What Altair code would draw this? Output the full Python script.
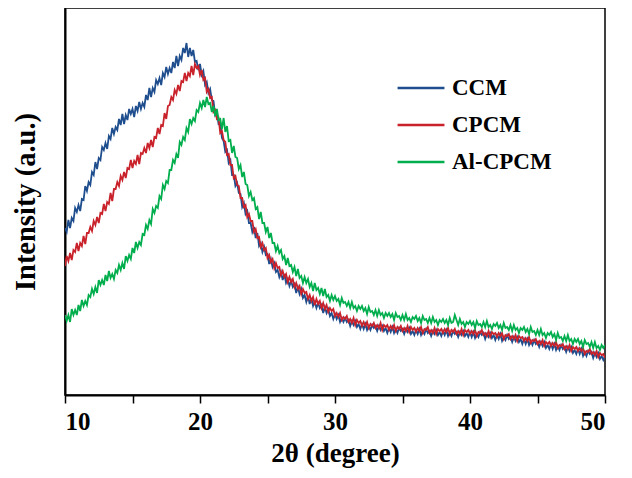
import altair as alt
import pandas as pd

two_theta = [round(10 + 0.125 * i, 3) for i in range(321)]

ccm = [
    167, 163, 175, 167, 177, 174, 187, 183, 190, 184, 196, 195, 209, 204, 213, 210,
    223, 220, 233, 226, 237, 235, 248, 245, 252, 246, 259, 256, 267, 261, 268, 265,
    276, 270, 281, 271, 280, 275, 286, 281, 286, 278, 289, 284, 293, 286, 292, 288,
    300, 295, 307, 298, 307, 303, 315, 311, 317, 310, 322, 318, 328, 321, 327, 322,
    333, 327, 339, 329, 339, 335, 347, 342, 352, 338, 347, 339, 345, 333, 334, 325,
    331, 320, 324, 310, 313, 302, 306, 295, 294, 280, 283, 271, 272, 257, 254, 243,
    245, 232, 235, 220, 220, 209, 212, 202, 201, 188, 192, 181, 184, 172, 172, 163,
    168, 157, 162, 149, 152, 143, 148, 140, 141, 131, 136, 128, 132, 123, 125, 118,
    123, 115, 121, 112, 116, 109, 114, 108, 111, 102, 108, 101, 106, 97, 100, 93,
    99, 91, 97, 89, 93, 87, 92, 87, 90, 82, 88, 82, 86, 79, 82, 76,
    81, 76, 80, 73, 77, 73, 77, 73, 75, 69, 74, 70, 74, 68, 71, 66,
    71, 66, 71, 65, 69, 65, 70, 67, 69, 64, 69, 65, 69, 64, 67, 62,
    67, 63, 68, 62, 66, 62, 67, 64, 66, 61, 66, 63, 67, 61, 64, 60,
    65, 61, 66, 60, 64, 61, 66, 62, 64, 59, 64, 61, 65, 60, 63, 59,
    64, 60, 65, 59, 63, 59, 64, 61, 63, 58, 63, 60, 64, 59, 62, 58,
    63, 58, 63, 57, 61, 58, 63, 60, 62, 56, 61, 58, 62, 57, 60, 55,
    60, 56, 61, 54, 58, 55, 60, 56, 58, 53, 58, 54, 58, 53, 56, 51,
    56, 51, 56, 50, 54, 50, 55, 51, 53, 48, 53, 49, 53, 47, 50, 46,
    51, 46, 51, 45, 49, 45, 50, 46, 48, 43, 48, 44, 48, 42, 45, 41,
    46, 41, 46, 39, 43, 39, 44, 41, 43, 37, 42, 38, 42, 36, 39, 35,
    39,
]

cpcm = [
    129, 139, 134, 142, 135, 145, 143, 152, 144, 152, 149, 159, 151, 162, 162, 168,
    164, 174, 170, 178, 172, 182, 181, 191, 184, 193, 191, 202, 194, 206, 206, 213,
    209, 219, 215, 223, 217, 227, 226, 235, 227, 234, 231, 240, 231, 242, 241, 247,
    242, 252, 247, 255, 248, 258, 257, 267, 261, 270, 269, 282, 276, 289, 290, 298,
    295, 305, 301, 310, 304, 314, 313, 322, 314, 322, 319, 329, 320, 331, 327, 329,
    320, 325, 315, 317, 303, 306, 297, 298, 283, 285, 276, 277, 262, 264, 255, 253,
    240, 241, 230, 230, 217, 219, 210, 209, 197, 197, 188, 190, 178, 181, 174, 174,
    163, 166, 157, 158, 148, 152, 145, 147, 137, 140, 133, 136, 127, 132, 127, 128,
    120, 124, 118, 121, 113, 118, 113, 116, 108, 112, 106, 109, 101, 106, 102, 103,
    96, 100, 94, 98, 90, 96, 91, 94, 87, 92, 86, 90, 83, 87, 84, 86,
    79, 82, 78, 82, 75, 78, 76, 79, 73, 76, 72, 77, 70, 75, 72, 74,
    69, 73, 69, 73, 67, 71, 69, 72, 67, 70, 67, 72, 65, 70, 68, 70,
    65, 69, 66, 70, 64, 68, 66, 69, 64, 67, 64, 69, 63, 68, 65, 67,
    63, 67, 64, 68, 62, 66, 65, 68, 62, 65, 62, 67, 61, 66, 64, 66,
    62, 66, 63, 67, 61, 65, 63, 66, 61, 64, 61, 66, 60, 65, 63, 65,
    61, 64, 61, 65, 59, 63, 62, 65, 60, 62, 59, 64, 58, 63, 61, 62,
    58, 62, 59, 62, 56, 60, 59, 61, 56, 59, 56, 60, 54, 59, 57, 58,
    54, 57, 54, 58, 52, 55, 54, 56, 51, 54, 51, 55, 49, 53, 51, 53,
    49, 52, 49, 53, 47, 50, 49, 51, 46, 49, 46, 50, 44, 48, 46, 48,
    44, 47, 44, 47, 41, 44, 43, 46, 41, 43, 40, 44, 38, 42, 40, 41,
    37,
]

al_cpcm = [
    80, 74, 80, 73, 86, 80, 85, 80, 90, 84, 95, 89, 94, 90, 100, 98,
    106, 101, 108, 102, 115, 110, 115, 110, 120, 114, 124, 117, 121, 116, 125, 122,
    130, 125, 132, 126, 139, 134, 140, 136, 147, 142, 153, 147, 153, 150, 161, 160,
    170, 166, 175, 171, 186, 182, 189, 187, 199, 196, 210, 206, 214, 212, 225, 225,
    235, 232, 241, 237, 253, 250, 258, 255, 267, 263, 276, 271, 277, 274, 285, 283,
    292, 287, 295, 288, 298, 291, 292, 283, 289, 279, 286, 275, 276, 266, 277, 263,
    269, 254, 255, 242, 249, 238, 237, 226, 230, 218, 223, 211, 210, 199, 203, 195,
    197, 186, 188, 176, 183, 172, 172, 163, 168, 157, 162, 152, 152, 144, 149, 142,
    145, 136, 139, 130, 137, 129, 130, 123, 128, 119, 126, 117, 119, 112, 118, 112,
    116, 108, 112, 104, 112, 105, 107, 101, 107, 99, 106, 98, 100, 94, 100, 95,
    99, 94, 96, 90, 97, 92, 93, 89, 93, 87, 93, 87, 89, 84, 89, 86,
    89, 84, 87, 81, 88, 83, 84, 80, 85, 79, 85, 80, 82, 77, 82, 79,
    82, 78, 81, 75, 82, 78, 79, 75, 80, 75, 81, 75, 77, 73, 78, 76,
    79, 74, 77, 72, 79, 75, 76, 72, 77, 72, 78, 73, 75, 70, 75, 73,
    76, 72, 75, 70, 77, 72, 73, 80, 75, 70, 76, 71, 73, 68, 73, 71,
    74, 70, 73, 67, 74, 70, 71, 68, 73, 68, 74, 68, 70, 66, 71, 69,
    72, 67, 70, 65, 72, 67, 68, 65, 70, 64, 70, 65, 67, 62, 67, 65,
    68, 63, 66, 61, 68, 63, 64, 60, 65, 60, 66, 60, 62, 57, 62, 60,
    63, 58, 61, 55, 62, 57, 58, 54, 59, 54, 60, 54, 56, 51, 56, 53,
    56, 51, 54, 48, 55, 51, 52, 48, 53, 47, 53, 47, 49, 45, 50, 47,
    50,
]

series_names = ["CCM", "CPCM", "Al-CPCM"]
series_colors = ["#1F4E8E", "#C9222B", "#00AE4D"]
x_ticks = [10, 15, 20, 25, 30, 35, 40, 45, 50]

frames = []
for name, vals in zip(series_names, [ccm, cpcm, al_cpcm]):
    frames.append(pd.DataFrame({"x": two_theta, "y": vals, "series": name}))
df = pd.concat(frames, ignore_index=True)

FONT = "Liberation Serif"

chart = alt.Chart(df).mark_line(strokeWidth=1.8, clip=True).encode(
    x=alt.X(
        "x:Q",
        scale=alt.Scale(domain=[10, 50], nice=False, zero=False),
        axis=alt.Axis(
            title="2θ (degree)",
            values=x_ticks,
            labelExpr="datum.value % 10 === 0 ? datum.label : ''",
            grid=False,
            tickSize=8,
            tickWidth=1.5,
            tickColor="black",
            domainColor="black",
            domainWidth=2,
            labelFont=FONT,
            labelFontSize=25,
            labelFontWeight="bold",
            labelColor="black",
            labelPadding=6,
            titleFont=FONT,
            titleFontSize=27,
            titleFontWeight="bold",
            titleColor="black",
            titlePadding=6,
        ),
    ),
    y=alt.Y(
        "y:Q",
        scale=alt.Scale(domain=[0, 387], nice=False),
        axis=alt.Axis(
            title="Intensity (a.u.)",
            labels=False,
            ticks=False,
            grid=False,
            domainColor="black",
            domainWidth=2,
            titleFont=FONT,
            titleFontSize=28.5,
            titleFontWeight="bold",
            titleColor="black",
            titlePadding=25,
        ),
    ),
    color=alt.Color(
        "series:N",
        scale=alt.Scale(domain=series_names, range=series_colors),
        legend=alt.Legend(
            title=None,
            orient="none",
            legendX=331,
            legendY=55,
            symbolType="stroke",
            symbolSize=2200,
            symbolStrokeWidth=2.5,
            labelFont=FONT,
            labelFontSize=23,
            labelFontWeight="bold",
            labelColor="black",
            labelOffset=6,
            rowPadding=-13,
        ),
    ),
).properties(
    width=540,
    height=387,
    autosize=alt.AutoSizeParams(type="none"),
    padding={"left": 57, "top": 0, "right": 19, "bottom": 75},
).configure_view(
    stroke="black",
    strokeWidth=1.5,
)

chart.save("out.html", embed_options={"renderer": "svg", "actions": False})
